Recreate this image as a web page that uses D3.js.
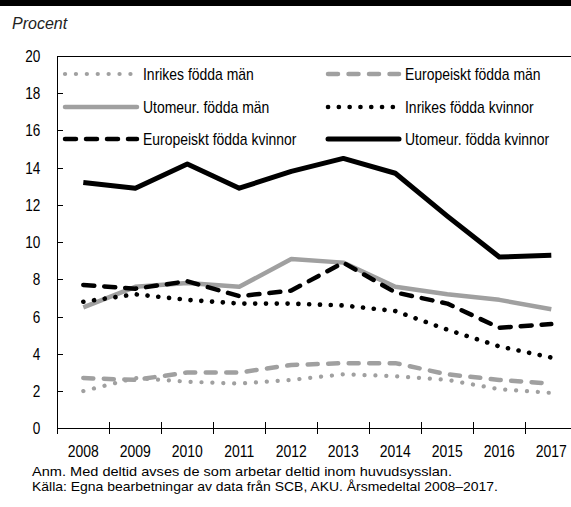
<!DOCTYPE html>
<head>
<meta charset="utf-8">
<script src="https://d3js.org/d3.v7.min.js"></script>
<style>
  body { margin: 0; background: #fff; }
  svg { display: block; }
  text { font-family: "Liberation Sans", Arial, sans-serif; font-size: 17px; fill: #000; }
  text.unit { font-style: italic; font-size: 16px; fill: #222; }
  text.note { font-size: 13.5px; }
  .axis text { font-size: 17px; }
  .axis path, .axis line { stroke: #000; shape-rendering: crispEdges; }
</style>
</head>
<body>
<div id="chart"></div>
<script>
const width = 571, height = 507;

const years = [2008, 2009, 2010, 2011, 2012, 2013, 2014, 2015, 2016, 2017];
const yTicks = [0, 2, 4, 6, 8, 10, 12, 14, 16, 18, 20];

// andel deltid, procent
const inrikesMan      = [2.0, 2.7, 2.5, 2.4, 2.6, 2.9, 2.8, 2.6, 2.1, 1.9];
const europeisktMan   = [2.7, 2.6, 3.0, 3.0, 3.4, 3.5, 3.5, 2.9, 2.6, 2.4];
const utomeurMan      = [6.5, 7.6, 7.8, 7.6, 9.1, 8.9, 7.6, 7.2, 6.9, 6.4];
const inrikesKvinnor  = [6.8, 7.2, 6.9, 6.7, 6.7, 6.6, 6.3, 5.3, 4.4, 3.8];
const europeisktKvinnor = [7.7, 7.5, 7.9, 7.1, 7.4, 8.9, 7.3, 6.7, 5.4, 5.6];
const utomeurKvinnor  = [13.2, 12.9, 14.2, 12.9, 13.8, 14.5, 13.7, 11.4, 9.2, 9.3];

const gray = "#a0a0a0";
const series = [
  {name: "Inrikes födda män",       values: inrikesMan,        color: gray,   width: 4.2, dash: "0.1,10.8", cap: "round"},
  {name: "Europeiskt födda män",    values: europeisktMan,     color: gray,   width: 4.5, dash: "10,10.5",  cap: "round"},
  {name: "Utomeur. födda män",      values: utomeurMan,        color: gray,   width: 4.5, dash: null,       cap: "butt"},
  {name: "Inrikes födda kvinnor",   values: inrikesKvinnor,    color: "#000", width: 4.6, dash: "0.1,10.7", cap: "round"},
  {name: "Europeiskt födda kvinnor", values: europeisktKvinnor, color: "#000", width: 4.5, dash: "11,10",   cap: "round"},
  {name: "Utomeur. födda kvinnor",  values: utomeurKvinnor,    color: "#000", width: 5,   dash: null,       cap: "butt"}
];

const margin = {top: 56, left: 57.3, bottom: 428.3};
const bandW = 52;

// no condensed font installed: squeeze text horizontally
function narrow(sel, factor) {
  sel.each(function() {
    const w = this.getComputedTextLength();
    d3.select(this).attr("textLength", w * factor).attr("lengthAdjust", "spacingAndGlyphs");
  });
}

const svg = d3.select("#chart").append("svg")
  .attr("width", width)
  .attr("height", height);

// header bar (title cut off above)
svg.append("rect").attr("x", 0).attr("y", 0).attr("width", width).attr("height", 6).attr("fill", "#000");

svg.append("text").attr("class", "unit").attr("x", 12).attr("y", 29).text("Procent");

const x = d3.scaleBand()
  .domain(years)
  .range([margin.left, margin.left + bandW * years.length]);

const y = d3.scaleLinear()
  .domain([0, 20])
  .range([margin.bottom, margin.top]);

// top border of plot
svg.append("line")
  .attr("x1", margin.left).attr("x2", width)
  .attr("y1", y(20)).attr("y2", y(20))
  .attr("stroke", "#000").attr("shape-rendering", "crispEdges");

const yAxis = d3.axisLeft(y)
  .tickValues(yTicks)
  .tickSizeInner(-6)
  .tickSizeOuter(0)
  .tickPadding(17);

const gy = svg.append("g")
  .attr("class", "axis")
  .attr("transform", `translate(${margin.left},0)`)
  .call(yAxis);
gy.selectAll(".tick").filter(d => d === 0 || d === 20).select("line").remove();
gy.select(".domain").attr("d", `M0,${y(20)}V${y(0) + 6}`);
narrow(gy.selectAll(".tick text"), 0.8);

// x axis: labels centered in bands, ticks between bands
const xAxis = d3.axisBottom(x).tickSize(0).tickPadding(17);
const gx = svg.append("g")
  .attr("class", "axis")
  .attr("transform", `translate(0,${y(0)})`)
  .call(xAxis);
gx.select(".domain").attr("d", `M${margin.left},0H${width}`);
gx.selectAll(".tickmark")
  .data(years.slice(1))
  .enter().append("line")
  .attr("class", "tickmark")
  .attr("x1", d => x(d)).attr("x2", d => x(d))
  .attr("y1", -6).attr("y2", 6);
narrow(gx.selectAll(".tick text"), 0.82);

// lines
const line = d3.line()
  .x((d, i) => x(years[i]) + x.bandwidth() / 2)
  .y(d => y(d));

svg.selectAll("path.series")
  .data(series)
  .enter().append("path")
  .attr("class", "series")
  .attr("fill", "none")
  .attr("stroke", d => d.color)
  .attr("stroke-width", d => d.width)
  .attr("stroke-dasharray", d => d.dash)
  .attr("stroke-linecap", d => d.cap)
  .attr("stroke-linejoin", "round")
  .attr("d", d => line(d.values));

// legend: two columns, filled row by row
const legendRows = [74, 107, 139];
const legendCols = [{x0: 65, x1: 137, tx: 143}, {x0: 328, x1: 399, tx: 405}];
const leg = svg.selectAll("g.legend")
  .data(series)
  .enter().append("g")
  .attr("class", "legend")
  .attr("transform", (d, i) => `translate(0,${legendRows[Math.floor(i / 2)]})`);

leg.append("line")
  .attr("x1", (d, i) => legendCols[i % 2].x0)
  .attr("x2", (d, i) => legendCols[i % 2].x1)
  .attr("stroke", d => d.color)
  .attr("stroke-width", d => d.width)
  .attr("stroke-dasharray", d => d.dash)
  .attr("stroke-linecap", "round");

narrow(leg.append("text")
  .attr("x", (d, i) => legendCols[i % 2].tx)
  .attr("dy", "0.35em")
  .text(d => d.name), 0.82);

const notes = [
  "Anm. Med deltid avses de som arbetar deltid inom huvudsysslan.",
  "Källa: Egna bearbetningar av data från SCB, AKU. Årsmedeltal 2008–2017."
];
const noteWidths = [420, 466];
svg.selectAll("text.note")
  .data(notes)
  .enter().append("text")
  .attr("class", "note")
  .attr("x", 32)
  .attr("y", (d, i) => 476 + i * 15)
  .attr("textLength", (d, i) => noteWidths[i])
  .attr("lengthAdjust", "spacingAndGlyphs")
  .text(d => d);
</script>
</body>
